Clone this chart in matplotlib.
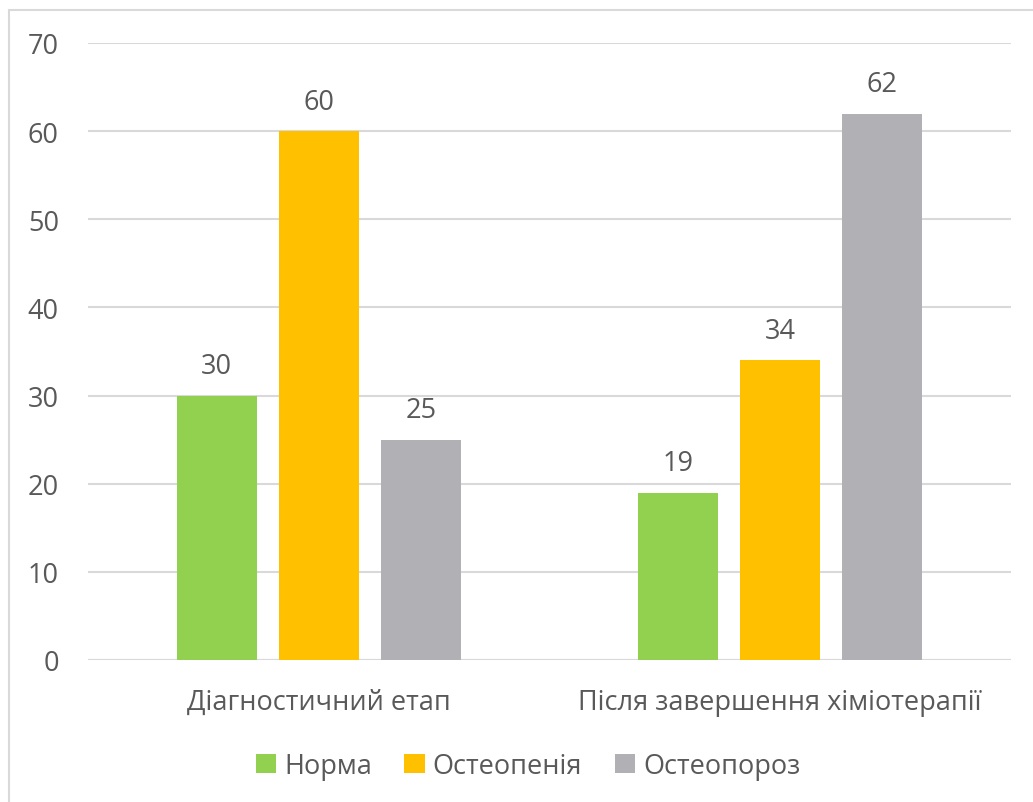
import matplotlib
matplotlib.use("Agg")
import matplotlib.pyplot as plt
import numpy as np

etapy = ["Діагностичний етап", "Після завершення хіміотерапії"]
serii = ["Норма", "Остеопенія", "Остеопороз"]
norma = [30, 19]
osteopenia = [60, 34]
osteoporoz = [25, 62]
kolory = ["#92D050", "#FFC000", "#B1B0B5"]

plt.rcParams["font.family"] = ["Open Sans", "DejaVu Sans"]
TXT = "#595959"
FS = 19.5

fig = plt.figure(figsize=(10.33, 8.03), dpi=100)
ax = fig.add_axes([88 / 1033, 142 / 803, 923 / 1033, 617 / 803])

# рамка діаграми
fig.patches.append(plt.Rectangle((9 / 1033, -0.05), 1.1, 1.05 - 11 / 803, transform=fig.transFigure,
                                 fill=False, ec="#D9D9D9", lw=1.5))

x = np.arange(len(etapy))
w = 0.173
krok = 0.221
for i, (vals, nm, c) in enumerate(zip([norma, osteopenia, osteoporoz], serii, kolory)):
    bars = ax.bar(x + (i - 1) * krok, vals, w, color=c, label=nm, zorder=3)
    for b, v in zip(bars, vals):
        ax.annotate(str(v), (b.get_x() + b.get_width() / 2, v), xytext=(0, 11),
                    textcoords="offset points", ha="center", va="bottom", fontsize=FS, color=TXT)

ax.set_xlim(-0.5, 1.5)
ax.set_ylim(0, 70)
ax.set_yticks(range(0, 71, 10))
ax.grid(True, axis="y", color="#D9D9D9", lw=1.5, zorder=0)
for s in ax.spines.values():
    s.set_visible(False)
ax.tick_params(axis="both", length=0, labelsize=FS, colors=TXT)
ax.tick_params(axis="y", pad=21)
ax.tick_params(axis="x", pad=20)
ax.set_xticks(x)
ax.set_xticklabels(etapy)
ax.axhline(0, color="#D9D9D9", lw=1.5, zorder=2)

leg = fig.legend(loc="center", bbox_to_anchor=(528 / 1033, 1 - 767 / 803), ncol=3, frameon=False,
                 fontsize=FS, handlelength=0.75, handleheight=0.75, handletextpad=0.3, columnspacing=1.2)
for t in leg.get_texts():
    t.set_color(TXT)

fig.savefig("out.png", dpi=100)
